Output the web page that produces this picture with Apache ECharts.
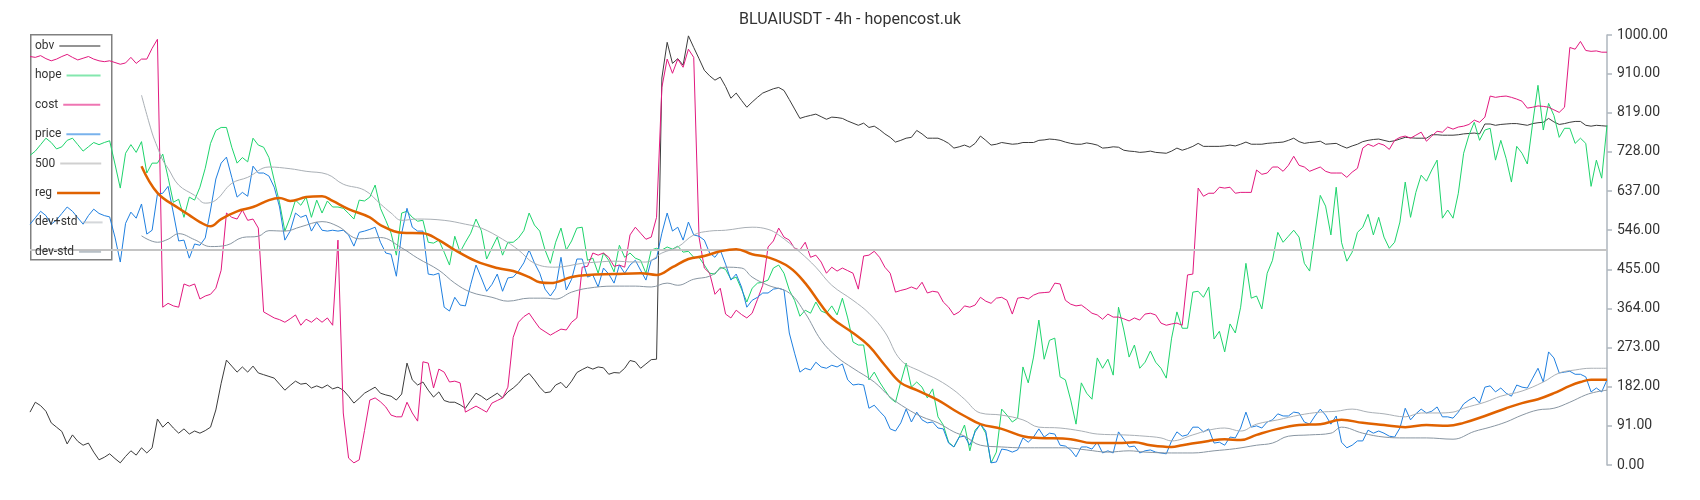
<!DOCTYPE html>
<html>
<head>
<meta charset="utf-8">
<script src="https://cdn.jsdelivr.net/npm/echarts@6/dist/echarts.min.js"></script>
<style>
  html, body { margin: 0; background: #fff; }
  #box { width: 1700px; height: 500px; }
</style>
</head>
<body>
<div id="box"></div>
<script>
  // values, one per 4h candle
  const obv = [
    123,146,138,125,98,88,78,49,70,55, 46,51,30,12,18,26,15,5,20,33,
    23,40,28,40,107,88,100,86,74,84, 72,79,74,80,88,128,190,244,230,216,
    228,216,230,214,210,206,202,188,174,185, 195,188,190,179,184,179,186,177,181,174,
    160,144,155,167,174,181,167,163,160,151, 165,237,198,186,193,174,158,170,150,146,
    146,140,132,150,167,160,151,159,167,156, 170,179,190,205,213,198,181,168,170,186,
    192,179,195,215,222,228,223,228,226,211, 215,214,225,243,240,225,235,245,246,900,
    983,934,945,930,998,971,945,918,905,895, 902,880,853,865,848,832,844,855,865,870,
    875,878,871,850,828,806,810,813,816,810, 804,809,808,806,800,795,790,795,785,788,
    780,770,762,751,755,760,762,778,770,760, 760,760,755,748,737,740,744,739,748,765,
    755,744,746,750,748,746,747,750,750,750, 755,756,758,757,755,751,748,746,746,749,
    747,744,737,738,740,739,732,730,729,727, 728,730,727,726,725,730,737,732,736,741,
    748,741,741,741,741,742,744,742,746,751, 746,746,746,748,749,750,751,755,760,752,
    748,750,751,753,746,747,748,742,737,742, 746,752,755,757,758,755,752,754,758,762,
    761,760,760,760,768,768,767,767,767,768, 770,771,772,770,793,793,790,792,793,794,
    794,792,790,794,796,797,806,798,792,794, 797,799,799,790,788,790,789,788
  ];
  const hope = [
    720,730,745,760,750,735,740,755,760,745, 730,740,750,745,750,754,700,644,725,745,
    727,752,679,702,702,723,669,611,618,576, 623,616,646,690,748,778,785,785,739,702,
    715,705,760,744,739,715,662,610,544,576, 616,604,623,576,616,586,614,600,600,597,
    585,572,616,614,623,651,597,569,539,488, 586,590,576,567,569,518,516,523,495,465,
    532,495,518,539,572,545,479,505,530,488, 518,518,528,545,586,558,544,500,469,518,
    551,500,521,551,553,476,481,446,493,476, 449,511,483,493,481,476,446,500,504,500,
    507,502,509,495,497,483,483,465,446,444, 460,455,432,437,409,379,411,423,425,430,
    458,465,446,407,383,346,360,353,379,358, 353,370,349,388,342,286,279,279,198,216,
    193,174,156,146,193,237,181,193,181,156, 177,112,93,53,42,65,93,33,81,95,
    74,5,30,130,116,100,109,228,191,251, 337,246,290,295,205,198,151,95,191,167,
    153,249,225,246,209,367,314,251,279,225, 239,265,239,225,202,295,356,318,318,402,
    404,390,414,293,311,263,328,307,367,469, 388,393,363,446,476,541,518,532,546,530,
    469,451,539,627,602,535,646,518,474,495, 541,553,583,535,576,530,504,518,565,658,
    576,634,674,660,686,709,574,593,574,632, 725,767,797,755,779,783,709,755,713,658,
    741,725,700,795,883,779,841,813,762,783, 783,748,760,748,648,709,667,790
  ];
  const cost = [
    950,948,952,945,940,944,950,955,948,942, 946,950,944,940,938,940,936,932,935,948,
    934,944,944,969,990,367,376,370,367,421, 416,421,386,393,397,411,453,586,576,572,
    593,569,572,551,356,349,342,338,332,340, 349,325,339,332,342,332,342,325,523,121,
    16,5,12,80,151,156,147,135,116,112, 112,146,121,102,240,237,179,223,216,193,
    195,191,123,130,137,130,123,144,150,156, 181,297,332,345,353,335,318,310,302,309,
    316,314,332,342,460,462,493,488,493,483, 462,465,460,535,553,539,525,530,576,878,
    944,911,944,925,967,948,530,458,446,397, 411,351,342,360,350,342,353,385,418,507,
    521,551,530,523,504,500,518,483,488,472, 446,460,451,458,452,446,409,486,488,497,
    483,460,446,402,406,409,414,409,425,400, 404,402,379,367,349,356,370,367,372,390,
    381,376,388,390,383,351,388,390,386,395, 400,401,402,423,421,383,374,370,372,363,
    353,349,339,351,344,344,340,335,342,337, 351,353,349,330,325,328,330,325,442,444,
    644,625,632,632,646,644,646,632,634,634, 634,686,676,679,693,693,683,697,718,697,
    693,683,688,693,683,679,679,679,669,681, 690,737,746,741,748,744,734,755,762,765,
    760,767,774,753,765,776,774,786,781,786, 788,792,802,797,809,858,855,857,858,855,
    851,846,830,832,835,834,832,826,820,832, 971,967,985,964,962,963,960,960
  ];
  const price = [
    560,575,590,580,560,570,585,600,590,575, 560,580,595,585,580,577,530,472,562,588,
    574,607,537,546,630,632,648,586,521,523, 481,514,511,528,593,665,702,716,669,623,
    634,625,695,679,679,672,646,600,523,544, 586,576,581,544,565,546,544,546,544,546,
    535,509,541,544,548,553,518,493,490,439, 539,597,553,544,544,444,442,446,367,358,
    390,372,370,420,465,435,404,420,444,404, 435,437,451,470,500,470,446,409,393,411,
    483,407,432,479,479,437,442,414,458,444, 423,465,446,465,476,453,430,476,481,539,
    586,544,553,523,565,535,532,523,493,483, 500,467,430,444,414,367,383,390,400,400,
    409,411,407,307,260,216,225,221,239,228, 225,232,228,235,198,186,188,186,132,139,
    125,112,84,79,98,130,100,123,105,98, 100,86,84,51,42,65,67,46,77,95,
    79,5,7,37,35,30,35,63,53,65, 84,65,74,72,46,44,35,19,42,42,
    37,53,28,33,28,77,60,42,44,28, 33,35,30,28,26,56,77,67,70,88,
    88,77,84,51,53,46,65,63,86,123, 88,91,86,100,105,119,114,114,123,121,
    100,95,114,130,116,95,114,53,40,46, 56,56,81,74,79,74,67,65,86,132,
    105,119,130,121,125,135,112,112,109,123, 142,151,158,144,181,184,170,179,167,160,
    186,181,179,202,225,193,263,249,214,216, 218,211,211,205,170,179,170,198
  ];
  const level500 = 500;
  // smooth lines: [candle index, value] read at points along the curve
  const reg = [
    [21,695],[24,633],[28,597],[30,581],[32,565],[34,555],[36,572],[39,590],[42,600],[45,616],
    [47,621],[49,614],[52,623],[55,625],[57,614],[60,595],[64,576],[66,558],[70,540],[74,539],
    [77,523],[80,500],[84,474],[88,458],[91,451],[94,437],[96,425],[98,423],[102,437],[105,442],
    [110,444],[115,446],[118,442],[121,460],[124,479],[127,486],[130,497],[133,502],[136,490],[139,483],
    [143,460],[146,423],[149,372],[151,342],[155,307],[158,277],[161,232],[164,191],[167,174],[171,151],
    [174,128],[176,114],[179,95],[183,84],[187,67],[190,63],[196,60],[200,51],[205,51],[208,53],
    [211,46],[215,42],[217,46],[222,56],[225,60],[228,58],[231,70],[235,84],[239,93],[243,95],
    [247,105],[251,98],[255,93],[259,88],[263,93],[267,91],[270,98],[274,114],[278,132],[281,144],
    [284,153],[287,167],[290,184],[292,193],[294,198],[297,198]
  ];
  const devUp = [
    [21,860],[23,772],[24,739],[25,709],[26,690],[28,651],[31,627],[33,609],[35,616],[38,655],
    [41,669],[45,693],[49,689],[52,683],[56,676],[59,653],[63,639],[66,607],[68,586],[70,569],
    [73,572],[78,569],[82,560],[85,551],[89,525],[92,500],[95,469],[99,460],[104,469],[107,472],
    [110,474],[114,472],[116,472],[119,493],[122,507],[125,535],[128,544],[131,546],[136,553],[139,548],
    [141,535],[145,495],[148,460],[151,418],[155,383],[158,353],[161,309],[164,244],[168,216],[171,198],
    [174,174],[176,153],[179,121],[183,116],[187,105],[190,88],[194,86],[198,79],[201,72],[206,70],
    [210,67],[213,63],[215,56],[219,70],[222,81],[225,86],[228,79],[231,95],[235,105],[239,116],
    [243,123],[246,125],[249,130],[252,123],[255,119],[259,112],[262,121],[265,121],[268,123],[270,132],
    [274,146],[277,160],[281,172],[285,193],[288,214],[291,221],[294,225],[297,225]
  ];
  const devDown = [
    [21,533],[24,518],[26,525],[28,538],[31,524],[34,508],[37,511],[40,529],[43,532],[45,545],
    [48,544],[51,554],[55,566],[58,555],[62,526],[66,529],[70,505],[73,481],[77,453],[80,423],
    [83,402],[87,390],[90,381],[94,388],[97,388],[99,386],[102,402],[105,411],[110,416],[114,416],
    [117,414],[120,423],[122,418],[125,432],[128,439],[131,460],[134,458],[136,437],[139,418],[143,400],
    [146,353],[149,290],[152,251],[155,225],[159,193],[162,158],[165,132],[168,112],[171,98],[174,77],
    [176,67],[179,46],[183,42],[187,40],[190,40],[195,40],[199,35],[203,30],[207,33],[210,30],
    [215,28],[219,28],[223,33],[227,38],[231,46],[234,51],[237,67],[241,70],[245,74],[247,88],
    [251,74],[255,65],[259,63],[263,63],[268,60],[272,78],[275,88],[278,100],[281,116],[284,128],
    [287,132],[290,146],[293,163],[295,170],[297,174]
  ];
  const yMax = 1000;
  const yStep = 91;

  const candles = obv.map((_, i) => String(i));
  const font = 'Roboto, "Noto Sans", sans-serif';

  const line = (name, data, color, extra) => Object.assign({
    name,
    type: 'line',
    data,
    symbol: 'none',
    showSymbol: false,
    lineStyle: { color, width: 1 },
    itemStyle: { color },
    emphasis: { disabled: true },
    animation: false,
  }, extra || {});

  // thin bar centred in a w x 14 box, so text and icon share a middle
  const barIcon = (w, t) => {
    const a = 7 - t / 2, b = 7 + t / 2;
    return 'path://M0,0L0,0M0,' + a + 'L' + w + ',' + a + 'L' + w + ',' + b +
      'L0,' + b + 'ZM' + w + ',14L' + w + ',14';
  };

  // legend rows: name, icon width, icon thickness, icon opacity
  const legendRows = [
    ['obv', 41, 2, 0.55], ['hope', 34, 2, 0.55], ['cost', 37, 2, 0.6], ['price', 34, 2, 0.6],
    ['500', 41, 2, 0.8], ['reg', 43, 2.5, 1], ['dev+std', 20, 2, 0.5], ['dev-std', 22, 2, 0.6],
  ];

  const chart = echarts.init(document.getElementById('box'));
  chart.setOption({
    backgroundColor: '#fff',
    animation: false,
    title: {
      text: 'BLUAIUSDT - 4h - hopencost.uk',
      left: 'center',
      top: 7,
      textStyle: { fontSize: 16, fontWeight: 'normal', color: '#333', fontFamily: font },
    },
    graphic: [{
      type: 'rect',
      left: 30,
      top: 34,
      z: 3,
      shape: { width: 81, height: 225 },
      style: { fill: '#fff', stroke: '#808080', lineWidth: 1.5 },
    }],
    legend: legendRows.map(([name, w, t, op], k) => ({
      data: [name],
      orient: 'vertical',
      left: 35,
      top: 39 + k * 29.4,
      align: 'right',
      icon: barIcon(w, t),
      itemWidth: w,
      itemHeight: 14,
      padding: 0,
      z: 5,
      selectedMode: false,
      itemStyle: { opacity: op },
      textStyle: { fontSize: 12, color: '#333', fontFamily: font },
    })),
    grid: { left: 30, right: 93, top: 35, bottom: 35 },
    xAxis: {
      type: 'category',
      data: candles,
      boundaryGap: false,
      show: false,
    },
    yAxis: {
      type: 'value',
      position: 'right',
      min: 0,
      max: yMax,
      interval: yStep,
      splitLine: { show: false },
      axisLine: { show: true, lineStyle: { color: '#aeb6be', width: 1.5 } },
      axisTick: { show: true, length: 5, lineStyle: { color: '#aeb6be', width: 1.5 } },
      axisLabel: {
        margin: 10,
        color: '#333',
        fontSize: 14,
        fontFamily: font,
        formatter: (v) => v.toFixed(2),
      },
    },
    series: [
      line('obv', obv, '#3c3c3c'),
      line('hope', hope, '#1ed46c'),
      line('cost', cost, '#e2197f'),
      line('price', price, '#1f7fe0'),
      line('500', candles.map(() => level500), '#c4c4c4', { lineStyle: { color: '#c4c4c4', width: 2 } }),
      line('reg', reg, '#e06200', { smooth: 0.4, z: 4, lineStyle: { color: '#e06200', width: 2.5 } }),
      line('dev+std', devUp, '#aab0b6', { smooth: 0.4 }),
      line('dev-std', devDown, '#8996a2', { smooth: 0.4 }),
    ],
  });
</script>
</body>
</html>
